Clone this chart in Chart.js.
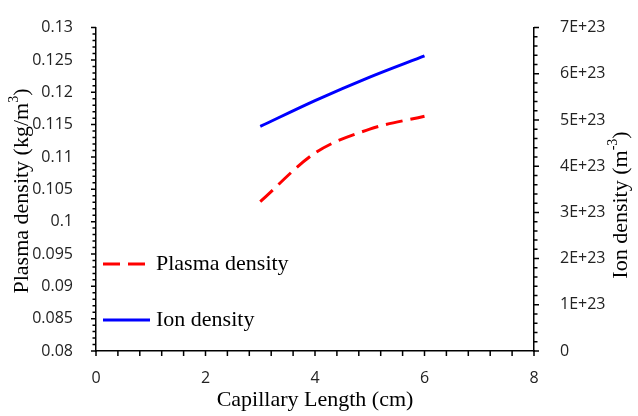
<!DOCTYPE html>
<html>
<head>
<meta charset="UTF-8">
<title>Plasma and ion density vs capillary length</title>
<script src="https://cdn.jsdelivr.net/npm/chart.js@4.4.1/dist/chart.umd.min.js"></script>
<style>
  body { margin: 0; background: #fff; }
  #wrap { width: 638px; height: 416px; }
</style>
</head>
<body>
<div id="wrap"><canvas id="chart" width="638" height="416"></canvas></div>
<script>
// capillary length (cm)
const lengths = [3, 4, 5, 6];
// plasma density (kg/m^3), left axis
const plasmaDensity = [0.1031, 0.1106, 0.1143, 0.1163];
// ion density (m^-3), right axis
const ionDensity = [4.86e23, 5.42e23, 5.93e23, 6.39e23];

const seriesNames = ['Plasma density', 'Ion density'];

const serif = '"Liberation Serif", "Times New Roman", serif';
const sans = '"Open Sans", "Liberation Sans", sans-serif';
const tickFont = { family: sans, size: 16 };
const tickColor = '#222';

// small outward tick marks, major + minor (Excel style)
const tickMarks = {
  id: 'tickMarks',
  afterDraw(chart) {
    const ctx = chart.ctx;
    const area = chart.chartArea;
    ctx.save();
    ctx.strokeStyle = '#000';
    ctx.lineWidth = 1.5;
    const run = (scale, step, every, draw) => {
      const n = Math.round((scale.max - scale.min) / step);
      for (let i = 0; i <= n; i++) {
        const p = scale.getPixelForValue(scale.min + i * step);
        draw(p, i % every === 0);
      }
    };
    ctx.beginPath();
    run(chart.scales.x, 0.4, 5, (p) => {
      ctx.moveTo(p, area.bottom); ctx.lineTo(p, area.bottom + 5);
    });
    run(chart.scales.y, 0.001, 5, (p, major) => {
      ctx.moveTo(area.left, p); ctx.lineTo(area.left - (major ? 5 : 3.5), p);
    });
    run(chart.scales.y1, 2e22, 5, (p, major) => {
      ctx.moveTo(area.right, p); ctx.lineTo(area.right + (major ? 5 : 3.5), p);
    });
    ctx.stroke();
    ctx.restore();
  }
};

// y-axis titles, both reading bottom-to-top, with superscripts
const axisTitles = {
  id: 'axisTitles',
  afterDraw(chart) {
    const ctx = chart.ctx;
    const drawTitle = (x, y, base, sup) => {
      ctx.save();
      ctx.translate(x, y);
      ctx.rotate(-Math.PI / 2);
      ctx.fillStyle = '#000';
      ctx.textBaseline = 'middle';
      ctx.font = '22px ' + serif;
      const w1 = ctx.measureText(base).width;
      ctx.font = '14px ' + serif;
      const w2 = ctx.measureText(sup).width;
      ctx.font = '22px ' + serif;
      const w3 = ctx.measureText(')').width;
      let cx = -(w1 + w2 + w3) / 2;
      ctx.textAlign = 'left';
      ctx.fillText(base, cx, 0);
      ctx.font = '14px ' + serif;
      ctx.fillText(sup, cx + w1, -8);
      ctx.font = '22px ' + serif;
      ctx.fillText(')', cx + w1 + w2, 0);
      ctx.restore();
    };
    drawTitle(22, 191, 'Plasma density (kg/m', '3');
    drawTitle(621, 205, 'Ion density (m', '-3');
  }
};

// legend drawn inside the plot area
const innerLegend = {
  id: 'innerLegend',
  afterDraw(chart) {
    const ctx = chart.ctx;
    const rows = [264, 320];
    ctx.save();
    chart.data.datasets.forEach((ds, i) => {
      const y = rows[i];
      ctx.strokeStyle = ds.borderColor;
      ctx.lineWidth = ds.borderWidth;
      ctx.setLineDash(ds.borderDash || []);
      ctx.beginPath();
      ctx.moveTo(103, y);
      ctx.lineTo(150, y);
      ctx.stroke();
      ctx.setLineDash([]);
      ctx.fillStyle = '#000';
      ctx.font = '22px ' + serif;
      ctx.textAlign = 'left';
      ctx.textBaseline = 'middle';
      ctx.fillText(ds.label, 156, y);
    });
    ctx.restore();
  }
};

new Chart(document.getElementById('chart'), {
  type: 'line',
  data: {
    datasets: [
      {
        label: seriesNames[0],
        data: lengths.map((x, i) => ({ x: x, y: plasmaDensity[i] })),
        yAxisID: 'y',
        borderColor: '#ff0000',
        borderWidth: 3,
        borderDash: [17, 8],
        pointRadius: 0,
        cubicInterpolationMode: 'monotone',
        fill: false
      },
      {
        label: seriesNames[1],
        data: lengths.map((x, i) => ({ x: x, y: ionDensity[i] })),
        yAxisID: 'y1',
        borderColor: '#0000ff',
        borderWidth: 3,
        pointRadius: 0,
        cubicInterpolationMode: 'monotone',
        fill: false
      }
    ]
  },
  options: {
    responsive: false,
    animation: false,
    layout: { padding: { top: 16, left: 0, right: 0, bottom: 0 } },
    plugins: {
      legend: { display: false },
      tooltip: { enabled: false }
    },
    scales: {
      x: {
        type: 'linear',
        min: 0,
        max: 8,
        grid: { display: false },
        border: { display: true, color: '#000', width: 1.5 },
        ticks: { stepSize: 2, padding: 10, color: tickColor, font: tickFont },
        title: {
          display: true,
          text: 'Capillary Length (cm)',
          color: '#000',
          font: { family: serif, size: 22 },
          padding: { top: 0, bottom: 3 }
        },
        afterFit(scale) { scale.height = 65; }
      },
      y: {
        position: 'left',
        min: 0.08,
        max: 0.13,
        grid: { display: false },
        border: { display: true, color: '#000', width: 1.5 },
        ticks: {
          stepSize: 0.005,
          padding: 15,
          color: tickColor,
          font: tickFont,
          callback: (v) => String(+v.toFixed(3))
        },
        afterFit(scale) { scale.width = 96; }
      },
      y1: {
        position: 'right',
        min: 0,
        max: 7e23,
        grid: { display: false },
        border: { display: true, color: '#000', width: 1.5 },
        ticks: {
          stepSize: 1e23,
          padding: 18,
          color: tickColor,
          font: tickFont,
          callback: (v) => {
            const n = Math.round(v / 1e23);
            return n === 0 ? '0' : n + 'E+23';
          }
        },
        afterFit(scale) { scale.width = 104; }
      }
    }
  },
  plugins: [tickMarks, axisTitles, innerLegend]
});
</script>
</body>
</html>
